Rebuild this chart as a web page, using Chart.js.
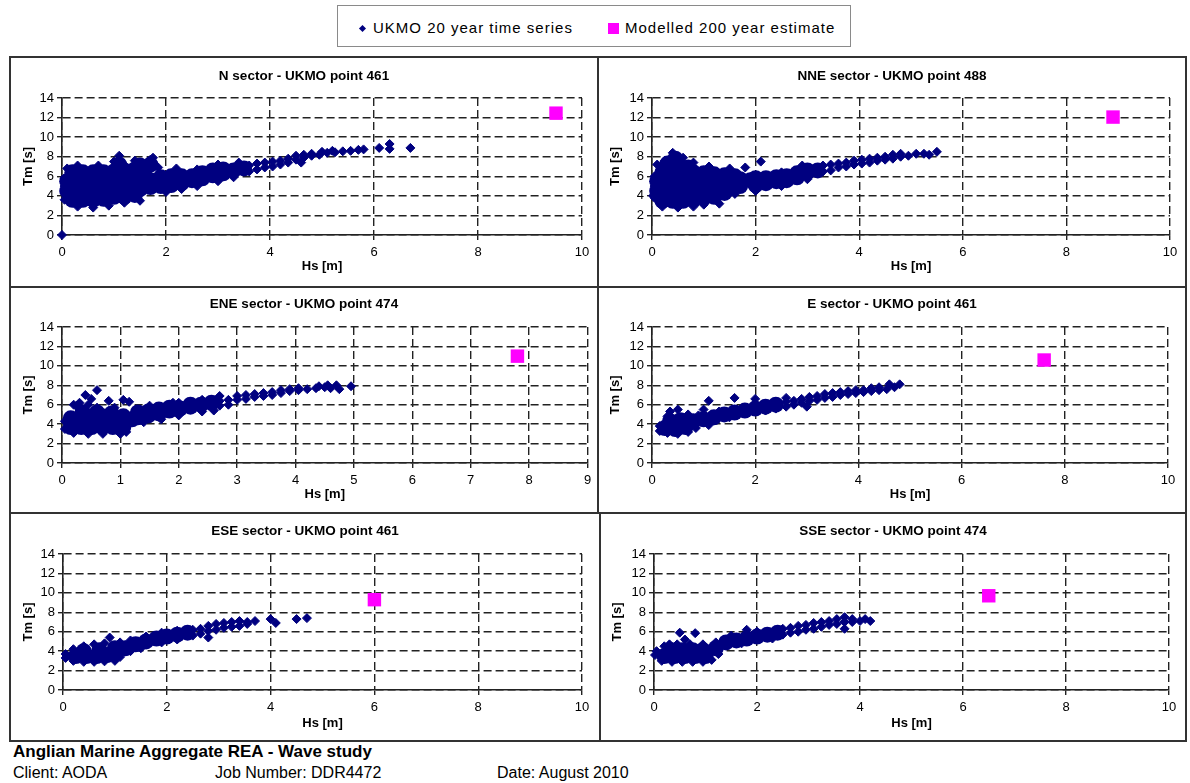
<!DOCTYPE html>
<html>
<head>
<meta charset="utf-8">
<script src="https://cdn.jsdelivr.net/npm/chart.js@4.4.1/dist/chart.umd.min.js"></script>
<style>
html,body{margin:0;padding:0;background:#fff;}
body{width:1190px;height:783px;position:relative;overflow:hidden;font-family:"Liberation Sans",Arial,sans-serif;color:#000;}
.panel{position:absolute;border:2px solid #333;box-sizing:border-box;}
.panel canvas{position:absolute;left:0;top:0;}
#legend{position:absolute;left:337px;top:5px;width:514px;height:42px;border:1px solid #8a8a8a;box-sizing:border-box;}
#legend .txt{position:absolute;top:13px;line-height:18px;font-size:15px;letter-spacing:1px;white-space:nowrap;}
#legend .dia{position:absolute;left:22px;top:20px;width:5px;height:5px;background:#000080;transform:rotate(45deg);}
#legend .sq{position:absolute;left:270px;top:17px;width:11px;height:11px;background:#ff00ff;}
.foot{position:absolute;white-space:nowrap;line-height:20px;}
</style>
</head>
<body>
<div id="legend">
  <span class="dia"></span><span class="txt" style="left:35px">UKMO 20 year time series</span>
  <span class="sq"></span><span class="txt" style="left:287px">Modelled 200 year estimate</span>
</div>
<div class="foot" style="left:13px;top:742px;font-weight:bold;font-size:17px">Anglian Marine Aggregate REA - Wave study</div>
<div class="foot" style="left:13px;top:763px;font-size:16px">Client: AODA</div>
<div class="foot" style="left:215px;top:763px;font-size:16px">Job Number: DDR4472</div>
<div class="foot" style="left:497px;top:763px;font-size:16px">Date: August 2010</div>
<script>
const TITLES = ['N sector - UKMO point 461', 'NNE sector - UKMO point 488', 'ENE sector - UKMO point 474',
                'E sector - UKMO point 461', 'ESE sector - UKMO point 461', 'SSE sector - UKMO point 474'];
const X_MAX = [10, 10, 9, 10, 10, 10];
const X_STEP = [2, 2, 1, 2, 2, 2];
const Y_MIN = 0, Y_MAX = 14, Y_STEP = 2;
const X_LABEL = 'Hs [m]', Y_LABEL = 'Tm [s]';
const SERIES = ['UKMO 20 year time series', 'Modelled 200 year estimate'];

// N sector
const N_DENSE = [[0.2,3.6],[0.4,3.6],[0.6,3.6],[0.8,3.7],[1.0,3.9],[1.2,3.9],[1.4,4.1],
  [0.1,4.5],[0.3,4.5],[0.5,4.5],[0.7,4.5],[0.9,4.5],[1.1,4.6],[1.3,4.6],[1.5,4.7],[1.7,4.9],
  [0.1,5.5],[0.3,5.5],[0.5,5.5],[0.7,5.5],[0.9,5.5],[1.1,5.5],[1.3,5.5],[1.5,5.6],[1.7,5.6],
  [0.2,6.4],[0.4,6.4],[0.6,6.4],[0.8,6.4],[1.0,6.5],[1.2,6.6],[1.4,6.7],[1.6,6.8],
  [1.1,7.2],[1.5,7.1],[1.7,7.2],
  [1.9,5.0],[1.9,5.9],[2.1,5.1],[2.1,6.0],[2.3,5.3],[2.3,6.0],[2.5,5.6],[2.5,6.0],[2.7,5.8],[2.7,6.3],
  [2.9,6.1],[2.9,6.6],[3.1,6.3],[3.1,6.7],[3.3,6.6],[3.5,6.8]];
const N_SCATTER = [[3.6,6.5],[3.6,7.1],[3.75,6.7],[3.75,7.3],[3.9,6.9],[3.9,7.4],[4.05,7.0],[4.05,7.5],
  [4.2,7.2],[4.2,7.6],[4.35,7.4],[4.35,7.8],[4.5,7.7],[4.5,8.1],[4.65,7.9],[4.65,8.2],[4.8,8.1],[4.8,8.3],
  [4.95,8.2],[5.0,8.5],[5.1,8.4],[5.2,8.6],[5.25,8.45],[5.4,8.55],[5.55,8.6],[5.7,8.7],[5.8,8.75],
  [0,0],[0.1,6.8],[4.6,7.4],[6.1,8.9],[6.3,9.3],[6.3,8.8],[6.7,8.9],[1.1,8.1],[1.75,7.9],
  [0.05,3.6],[0.05,5.0],[0.05,5.8],[0.3,2.9],[0.6,2.8],[0.9,3.0],[1.2,3.3],[1.5,3.5],[0.3,7.1],[0.7,7.1],
  [1.0,7.5],[1.4,7.6],[1.7,7.7],[1.85,6.9],[2.0,4.4],[2.3,4.7],[2.6,5.0],[3.0,5.5],[3.3,5.9],[2.2,6.8],
  [2.6,6.7],[3.0,7.2],[3.4,7.4]];
const N_MODEL = [[9.5,12.45]];

// NNE sector
const NNE_DENSE = [[0.2,3.5],[0.4,3.5],[0.6,3.5],[0.8,3.6],[1.0,3.8],[1.2,3.9],[1.4,4.3],
  [0.1,4.5],[0.3,4.5],[0.5,4.5],[0.7,4.5],[0.9,4.5],[1.1,4.5],[1.3,4.6],[1.5,4.8],[1.7,5.0],
  [0.1,5.5],[0.3,5.5],[0.5,5.5],[0.7,5.5],[0.9,5.5],[1.1,5.5],[1.3,5.5],[1.5,5.6],[1.7,5.7],[1.9,5.6],
  [0.2,6.4],[0.4,6.4],[0.6,6.4],[0.8,6.4],[1.0,6.3],[1.2,6.2],[1.4,6.1],[1.6,6.0],
  [0.3,7.3],[0.5,7.3],[0.7,6.9],[0.45,7.8],
  [2.0,5.1],[2.0,5.8],[2.2,5.3],[2.2,5.8],[2.4,5.5],[2.4,5.9],[2.6,5.6],[2.6,6.0],[2.8,5.9],[2.8,6.3],
  [3.0,6.4],[3.0,6.6],[3.2,6.6]];
const NNE_SCATTER = [[3.3,6.5],[3.3,7.1],[3.45,6.6],[3.45,7.2],[3.6,6.9],[3.6,7.3],[3.75,7.0],[3.75,7.4],
  [3.9,7.2],[3.9,7.6],[4.05,7.3],[4.05,7.7],[4.2,7.4],[4.2,7.8],[4.35,7.6],[4.35,7.9],[4.5,7.7],[4.5,8.0],
  [4.65,7.8],[4.65,8.2],[4.8,8.0],[4.8,8.3],[4.95,8.1],[5.1,8.3],[5.25,8.3],[5.35,8.2],[5.5,8.5],
  [0.1,7.2],[0.4,8.4],[1.3,3.2],[1.8,6.9],[2.1,7.5],[0.02,4.0],
  [0.05,3.8],[0.05,5.0],[0.05,6.0],[0.2,2.9],[0.5,2.8],[0.8,2.9],[1.0,3.1],[1.6,4.2],[0.25,7.6],[0.6,7.9],
  [0.8,7.4],[1.1,7.0],[1.5,6.8],[2.5,6.4],[2.9,7.1],[2.0,4.5],[2.5,5.0],[3.0,5.7]];
const NNE_MODEL = [[8.9,12.05]];

// ENE sector
const ENE_DENSE = [[0.15,3.7],[0.33,3.7],[0.51,3.7],[0.69,3.7],[0.87,3.7],[1.05,3.7],
  [0.15,4.6],[0.33,4.7],[0.51,4.8],[0.69,4.8],[0.87,4.8],[1.05,4.8],[1.2,4.5],
  [0.35,5.2],[0.6,5.2],[0.85,5.1],
  [1.3,4.7],[1.3,5.2],[1.48,4.9],[1.48,5.3],[1.66,5.1],[1.66,5.5],[1.84,5.4],[1.84,5.7],[2.02,5.6],
  [2.2,5.8],[2.2,6.0],[2.38,6.0],[2.56,6.2]];
const ENE_SCATTER = [[2.7,5.9],[2.7,6.4],[2.85,6.0],[2.85,6.5],[3.0,6.5],[3.0,6.9],[3.15,6.6],[3.15,7.0],
  [3.3,6.8],[3.3,7.1],[3.45,6.9],[3.45,7.2],[3.6,7.0],[3.6,7.3],[3.75,7.2],[3.75,7.5],[3.9,7.4],[3.9,7.6],
  [4.05,7.5],[4.05,7.7],[4.2,7.6],[4.35,7.7],[4.5,7.8],[4.6,7.7],[4.7,8.0],[4.75,7.6],[4.95,7.9],[4.4,7.9],[4.55,8.0],
  [0.2,6.0],[0.3,6.2],[0.4,7.0],[0.5,6.6],[0.6,7.5],[0.8,6.4],[1.05,6.5],[1.15,6.3],[2.6,5.4],[2.7,6.9],[1.9,6.2],
  [0.05,3.5],[0.05,4.3],[0.2,3.1],[0.45,3.0],[0.7,3.0],[1.0,3.0],[1.1,3.2],[0.3,5.5],[0.6,5.7],[0.9,5.7],
  [0.25,5.9],[0.45,6.0],[1.4,4.2],[1.7,4.5],[2.0,4.9],[2.4,5.3],[1.5,5.9],[2.0,6.2],[2.4,6.5]];
const ENE_MODEL = [[7.8,11.0]];

// E sector
const E_DENSE = [[0.25,3.6],[0.45,3.5],[0.65,3.7],[0.35,4.3],[0.55,4.4],[0.8,4.3],[1.0,4.5],[1.2,4.7],
  [1.4,5.0],[1.6,5.2],[1.8,5.4],[2.0,5.6],[2.2,5.8],[2.4,6.0]];
const E_SCATTER = [[0.15,3.3],[0.15,3.8],[0.3,3.1],[0.5,3.0],[0.7,3.2],[0.85,3.6],[0.3,4.8],[0.35,5.3],
  [0.5,5.5],[0.7,5.0],[0.9,4.9],[1.0,5.5],[1.1,6.4],[1.3,5.3],[1.6,6.7],[2.0,6.6],[1.2,4.4],[1.5,4.7],
  [1.8,5.1],[2.6,6.7],[1.1,3.9],
  [2.6,5.8],[2.6,6.3],[2.75,6.0],[2.75,6.4],[2.9,6.2],[2.9,6.6],[3.05,6.4],[3.05,6.8],[3.2,6.5],[3.2,6.9],
  [3.35,6.7],[3.35,7.1],[3.5,6.8],[3.5,7.2],[3.65,7.0],[3.65,7.3],[3.8,7.1],[3.8,7.4],[3.95,7.2],[3.95,7.5],
  [4.1,7.3],[4.1,7.5],[4.25,7.4],[4.25,7.7],[4.4,7.5],[4.4,7.8],[4.55,7.6],[4.6,8.1],[4.7,7.8],[4.8,8.1],
  [2.2,5.4],[2.4,5.6],[3.0,5.8]];
const E_MODEL = [[7.6,10.6]];

// ESE sector
const ESE_DENSE = [[0.25,3.5],[0.45,3.5],[0.65,3.5],[0.85,3.6],[0.4,4.0],[0.7,4.1],[1.0,3.8],[1.0,4.3],
  [1.2,4.3],[1.4,4.7],[1.6,5.0],[1.8,5.3],[2.0,5.5],[2.2,5.7],[2.4,5.9]];
const ESE_SCATTER = [[0.05,3.3],[0.05,3.7],[0.2,3.0],[0.4,2.9],[0.6,2.9],[0.8,2.95],[1.0,3.0],[1.1,3.4],
  [0.2,4.2],[0.4,4.5],[0.6,4.7],[0.8,4.8],[0.9,5.4],[1.1,4.9],[1.3,4.0],[1.5,4.3],[1.3,5.1],[1.6,5.5],
  [1.9,4.9],[1.9,5.9],[2.2,5.2],[2.2,6.1],
  [2.5,5.6],[2.5,6.2],[2.65,5.8],[2.65,6.3],[2.8,5.4],[2.8,6.1],[2.8,6.6],[2.95,6.2],[2.95,6.8],[3.1,6.4],
  [3.1,6.9],[3.25,6.5],[3.25,7.0],[3.4,6.6],[3.4,7.1],[3.55,6.8],[3.55,7.0],[3.7,7.1],[4.0,7.3],[4.1,6.9],
  [4.5,7.3],[4.7,7.4]];
const ESE_MODEL = [[6.0,9.3]];

// SSE sector
const SSE_DENSE = [[0.2,3.5],[0.4,3.5],[0.6,3.5],[0.8,3.5],[1.0,3.5],[0.35,4.1],[0.55,4.1],[0.75,4.1],
  [0.95,4.1],[1.2,4.3],[1.4,4.9],[1.6,5.1],[1.8,5.3],[2.0,5.5],[2.2,5.7],[2.4,5.9]];
const SSE_SCATTER = [[0.02,3.6],[0.05,4.0],[0.15,3.0],[0.35,2.9],[0.55,2.9],[0.75,2.9],[0.95,2.9],[1.12,3.1],
  [1.25,3.7],[0.2,4.5],[0.3,4.7],[0.5,5.9],[0.6,5.2],[0.8,5.85],[0.45,4.7],[0.7,4.7],[0.95,4.7],[1.2,4.9],
  [1.5,5.6],[1.8,6.2],[1.7,4.8],[2.0,6.0],[2.3,5.3],
  [2.5,5.7],[2.5,6.3],[2.65,5.9],[2.65,6.4],[2.8,6.0],[2.8,6.6],[2.95,6.2],[2.95,6.7],[3.1,6.3],[3.1,6.9],
  [3.25,6.5],[3.25,7.0],[3.4,6.7],[3.4,7.1],[3.55,6.8],[3.55,7.3],[3.7,7.0],[3.7,7.5],[3.7,6.3],[3.85,7.0],
  [3.85,7.3],[4.0,7.1],[4.1,7.3],[4.2,7.1]];
const SSE_MODEL = [[6.5,9.7]];

const DENSE = [N_DENSE, NNE_DENSE, ENE_DENSE, E_DENSE, ESE_DENSE, SSE_DENSE];
const SCATTER = [N_SCATTER, NNE_SCATTER, ENE_SCATTER, E_SCATTER, ESE_SCATTER, SSE_SCATTER];
const MODEL = [N_MODEL, NNE_MODEL, ENE_MODEL, E_MODEL, ESE_MODEL, SSE_MODEL];

// page layout: panel box, plot area (l,t,r,b), title y, x-title y, y-title x
const LAYOUT = [
  {box:[9,56,590,232],   area:[62,98,582,235],   ty:76,    xty:266,   ytx:28},
  {box:[597,56,590,232], area:[652,98,1170,235], ty:76,    xty:266,   ytx:615},
  {box:[9,286,590,228],  area:[62,327,588,463],  ty:304,   xty:494,   ytx:28},
  {box:[597,286,590,228],area:[652,327,1168,463],ty:304,   xty:494,   ytx:615},
  {box:[9,512,592,230],  area:[63,554,582,690],  ty:531.5, xty:723.5, ytx:28},
  {box:[599,512,588,230],area:[654,554,1169,690],ty:531.5, xty:723.5, ytx:617}
];

const FONT = '"Liberation Sans", Arial, sans-serif';
const NAVY = '#000080', MAGENTA = '#ff00ff';

const panelTitle = {
  id: 'panelTitle',
  afterDraw(chart, args, opts) {
    const ctx = chart.ctx;
    ctx.save();
    ctx.font = 'bold 13.5px ' + FONT;
    ctx.fillStyle = '#000';
    ctx.textAlign = 'center';
    ctx.textBaseline = 'middle';
    ctx.fillText(opts.text, chart.width / 2, opts.y);
    ctx.restore();
  }
};

const toXY = a => a.map(p => ({x: p[0], y: p[1]}));

LAYOUT.forEach((L, i) => {
  const div = document.createElement('div');
  div.className = 'panel';
  div.style.left = L.box[0] + 'px'; div.style.top = L.box[1] + 'px';
  div.style.width = L.box[2] + 'px'; div.style.height = L.box[3] + 'px';
  const cx = L.box[0] + 2, cy = L.box[1] + 2, cw = L.box[2] - 4, ch = L.box[3] - 4;
  const cv = document.createElement('canvas');
  cv.width = cw; cv.height = ch;
  cv.style.width = cw + 'px'; cv.style.height = ch + 'px';
  div.appendChild(cv);
  document.body.appendChild(div);

  const lh = 13 * 1.2;
  const grid = {color: '#222', lineWidth: 1.4, tickLength: 5, tickColor: '#222', tickWidth: 1.4};
  const border = {display: true, color: '#222', width: 1.6, dash: [8, 4]};

  new Chart(cv, {
    type: 'scatter',
    data: {datasets: [
      {label: SERIES[1], data: toXY(MODEL[i]), pointStyle: 'rect', pointRadius: 9.5,
       backgroundColor: MAGENTA, borderColor: MAGENTA, borderWidth: 0, clip: false},
      {label: SERIES[0], data: toXY(SCATTER[i]), pointStyle: 'rectRot', pointRadius: 4.5,
       backgroundColor: NAVY, borderColor: NAVY, borderWidth: 1, clip: false},
      // dense core of the cloud
      {label: SERIES[0], data: toXY(DENSE[i]), pointStyle: 'circle', pointRadius: 8,
       backgroundColor: NAVY, borderColor: NAVY, borderWidth: 0, clip: false}
    ]},
    options: {
      responsive: false, animation: false, events: [],
      layout: {padding: {left: 0, top: L.area[1] - cy, right: cx + cw - L.area[2], bottom: 0}},
      plugins: {legend: {display: false}, tooltip: {enabled: false},
                panelTitle: {text: TITLES[i], y: L.ty - cy}},
      scales: {
        x: {type: 'linear', min: 0, max: X_MAX[i],
            ticks: {stepSize: X_STEP[i], color: '#000', font: {family: FONT, size: 13}, padding: 5},
            grid: grid, border: border,
            title: {display: true, text: X_LABEL, color: '#000', font: {family: FONT, size: 13, weight: 'bold'},
                    padding: {top: 0, bottom: (cy + ch) - L.xty - lh / 2}},
            afterFit: s => { s.height = cy + ch - L.area[3]; }},
        y: {type: 'linear', min: Y_MIN, max: Y_MAX,
            ticks: {stepSize: Y_STEP, color: '#000', font: {family: FONT, size: 13}, padding: 3},
            grid: grid, border: border,
            title: {display: true, text: Y_LABEL, color: '#000', font: {family: FONT, size: 13, weight: 'bold'},
                    padding: {top: L.ytx - cx - lh / 2, bottom: 0}},
            afterFit: s => { s.width = L.area[0] - cx; }}
      }
    },
    plugins: [panelTitle]
  });
});
</script>
</body>
</html>
